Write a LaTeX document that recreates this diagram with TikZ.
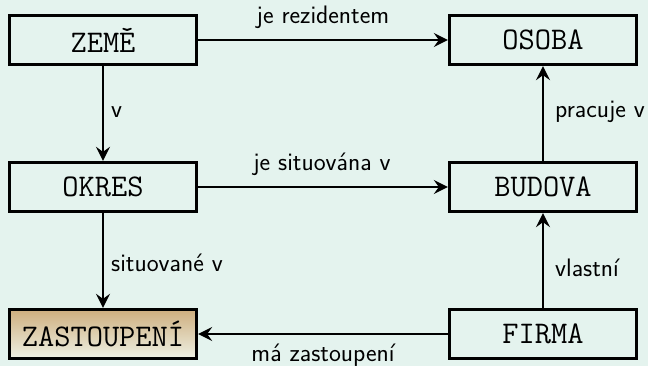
\documentclass[tikz,border=0pt]{standalone}
\usepackage{fontspec}
\usetikzlibrary{arrows.meta}
\definecolor{bg}{HTML}{E4F3EE}
\definecolor{tanA}{HTML}{CEAE7E}
\definecolor{tanB}{HTML}{EEF1E4}
\tikzset{
  ent/.style={draw=black, line width=3.3pt, fill=bg, minimum width=187pt, minimum height=49pt,
    inner sep=0pt, font=\fontsize{31.5}{35}\selectfont\ttfamily},
  rel/.style={draw=black, line width=2.6pt, -{Stealth[length=14pt,width=14pt,inset=5pt]}},
  lab/.style={font=\fontsize{25.3}{29}\selectfont\sffamily, inner sep=0pt}
}
\begin{document}
\begin{tikzpicture}[x=1pt,y=-1pt]
\fill[bg] (0,0) rectangle (648,366);
\useasboundingbox (0,0) rectangle (648,366);
\node[ent] (zeme) at (103,40) {ZEMĚ};
\node[ent] (osoba) at (543,40) {OSOBA};
\node[ent] (okres) at (103,187) {OKRES};
\node[ent] (budova) at (543,187) {BUDOVA};
\node[ent, top color=tanA, bottom color=tanB] (zast) at (103,334) {ZASTOUPENÍ};
\node[ent] (firma) at (543,334) {FIRMA};
\draw[rel] (zeme) -- (osoba);
\draw[rel] (zeme) -- (okres);
\draw[rel] (okres) -- (budova);
\draw[rel] (okres) -- (zast);
\draw[rel] (budova) -- (osoba);
\draw[rel] (firma) -- (budova);
\draw[rel] (firma) -- (zast);
\node[lab] (l1) at (323,17) {je rezidentem};
\node[lab, anchor=west] (l2) at (111,112) {v};
\node[lab] (l3) at (322,164) {je situována v};
\node[lab, anchor=west] (l4) at (111,263) {situované v};
\node[lab, anchor=west] (l5) at (555,112) {pracuje v};
\node[lab, anchor=west] (l6) at (555,268) {vlastní};
\node[lab] (l7) at (323,355) {má zastoupení};
\end{tikzpicture}
\end{document}
